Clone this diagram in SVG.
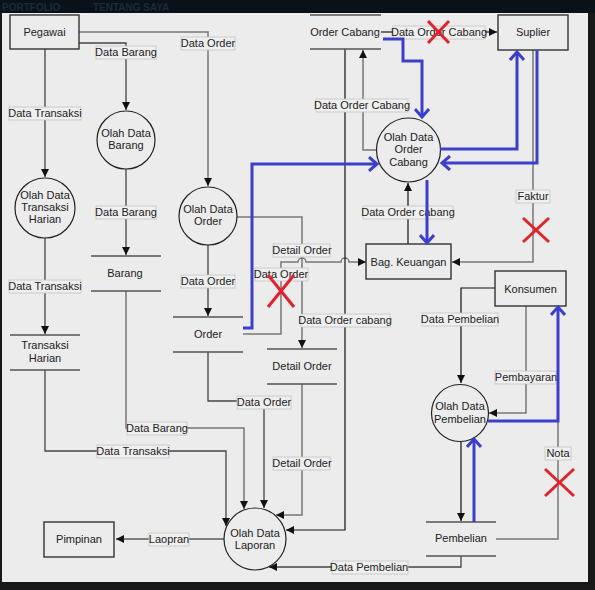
<svg xmlns="http://www.w3.org/2000/svg" width="595" height="590" viewBox="0 0 595 590">
<defs>
<marker id="ar" markerUnits="userSpaceOnUse" markerWidth="9" markerHeight="8" refX="8" refY="4" orient="auto"><path d="M0,0 L8,4 L0,8 z" fill="#111"/></marker>
<marker id="bc" markerUnits="userSpaceOnUse" markerWidth="14" markerHeight="16" refX="10" refY="8" orient="auto"><polyline points="2,1 10,8 2,15" fill="none" stroke="#3c3fcb" stroke-width="3"/></marker>
<style>
text{font-family:"Liberation Sans",Arial,sans-serif;font-size:11px;fill:#222;text-anchor:middle}
.box{fill:#ececec;stroke:#333;stroke-width:1.4}
.pr{fill:#ececec;stroke:#222;stroke-width:1.2}
.ds{stroke:#555;stroke-width:1.5}
.fl{fill:none;stroke:#444;stroke-width:1.3}
.fg{fill:none;stroke:#777;stroke-width:1.5}
.fk{fill:none;stroke:#111;stroke-width:1.2}
.lb rect{fill:#efefef;stroke:#c4c4c4;stroke-width:0.8}
.bl{fill:none;stroke:#3c3fcb;stroke-width:3}
.rx{stroke:#e2222c;stroke-width:3}
.hd{font-weight:bold;font-size:10px;fill:#1d2a3a;text-anchor:start}
</style>
</defs>
<rect x="0" y="0" width="595" height="590" fill="#181818"/>
<rect x="0" y="0" width="595" height="13" fill="#0a1219"/>
<text class="hd" x="2" y="10.5">PORTFOLIO</text>
<text class="hd" x="93" y="10.5">TENTANG SAYA</text>
<rect x="2" y="13" width="586" height="569" fill="#ececec"/>

<g id="connectors">
<path class="fl" d="M45,49 V177" marker-end="url(#ar)"/>
<path class="fl" d="M79,43 H126 V110" marker-end="url(#ar)"/>
<path class="fg" d="M79,32 H208 V186" marker-end="url(#ar)"/>
<path class="fl" d="M126,169 V255" marker-end="url(#ar)"/>
<path class="fl" d="M45,238 V334" marker-end="url(#ar)"/>
<path class="fl" d="M208,245 V316" marker-end="url(#ar)"/>
<path class="fg" d="M237,217 H302 V348" marker-end="url(#ar)"/>
<path class="fg" d="M243,334 H281 V262 H298 a4,4 0 0 1 8,0 H341 a4,4 0 0 1 8,0 H366" marker-end="url(#ar)"/>
<path class="fk" d="M345,49 V530 H286" marker-end="url(#ar)"/>
<path class="fg" d="M377,150 H363 V50" marker-end="url(#ar)"/>
<path class="fk" d="M408,244 V183" marker-end="url(#ar)"/>
<path class="fl" d="M381,32 H497" marker-end="url(#ar)"/>
<path class="fg" d="M533,50 V262 H452" marker-end="url(#ar)"/>
<path class="fk" d="M495,288 H461 V383" marker-end="url(#ar)"/>
<path class="fg" d="M526,306 V413 H489" marker-end="url(#ar)"/>
<path class="fk" d="M461,441 V521" marker-end="url(#ar)"/>
<path class="fg" d="M496,539 H558 V307"/>
<path class="fl" d="M461,556 V567 H269" marker-end="url(#ar)"/>
<path class="fk" d="M224,539 H116" marker-end="url(#ar)"/>
<path class="fl" d="M45,370 V451 H226 V526" marker-end="url(#ar)"/>
<path class="fg" d="M126,291 V428 H244 V509" marker-end="url(#ar)"/>
<path class="fl" d="M208,352 V401 H264 V508" marker-end="url(#ar)"/>
<path class="fg" d="M302,384 V515 H276" marker-end="url(#ar)"/>

<g class="lb">
<rect x="9" y="107" width="72" height="13"/><text x="45" y="117">Data Transaksi</text>
<rect x="96" y="46" width="60" height="13"/><text x="126" y="56">Data Barang</text>
<rect x="181" y="37" width="54" height="13"/><text x="208" y="47">Data Order</text>
<rect x="96" y="206" width="60" height="13"/><text x="126" y="216">Data Barang</text>
<rect x="9" y="280" width="72" height="13"/><text x="45" y="290">Data Transaksi</text>
<rect x="181" y="275" width="54" height="13"/><text x="208" y="285">Data Order</text>
<rect x="273" y="244" width="57" height="13"/><text x="302" y="254">Detail Order</text>
<rect x="255" y="268" width="53" height="13"/><text x="281" y="278">Data Order</text>
<rect x="301" y="314" width="89" height="13"/><text x="345" y="324">Data Order cabang</text>
<rect x="316" y="99" width="92" height="13"/><text x="362" y="109">Data Order Cabang</text>
<rect x="363" y="206" width="90" height="13"/><text x="408" y="216">Data Order cabang</text>
<rect x="393" y="26" width="92" height="13"/><text x="439" y="36">Data Order Cabang</text>
<rect x="516" y="190" width="34" height="13"/><text x="533" y="200">Faktur</text>
<rect x="422" y="313" width="76" height="13"/><text x="460" y="323">Data Pembelian</text>
<rect x="495" y="371" width="61" height="13"/><text x="526" y="381">Pembayaran</text>
<rect x="545" y="447" width="26" height="13"/><text x="558" y="457">Nota</text>
<rect x="332" y="561" width="76" height="13"/><text x="369" y="571">Data Pembelian</text>
<rect x="149" y="533" width="40" height="13"/><text x="169" y="543">Laopran</text>
<rect x="97" y="445" width="72" height="13"/><text x="133" y="455">Data Transaksi</text>
<rect x="127" y="422" width="60" height="13"/><text x="157" y="432">Data Barang</text>
<rect x="237" y="396" width="54" height="13"/><text x="264" y="406">Data Order</text>
<rect x="273" y="457" width="57" height="13"/><text x="302" y="467">Detail Order</text>
</g>
</g>

<g id="pegawai"><rect class="box" x="10" y="15" width="69" height="34"/><text x="44.5" y="36">Pegawai</text></g>
<g id="suplier"><rect class="box" x="498" y="15" width="70" height="35"/><text x="533" y="36">Suplier</text></g>
<g id="bagkeuangan"><rect class="box" x="366" y="244" width="85" height="35"/><text x="408.5" y="266">Bag. Keuangan</text></g>
<g id="konsumen"><rect class="box" x="495" y="271" width="71" height="35"/><text x="530.5" y="293">Konsumen</text></g>
<g id="pimpinan"><rect class="box" x="44" y="522" width="70" height="35"/><text x="79" y="543">Pimpinan</text></g>

<g id="olahtransaksi"><circle class="pr" cx="45" cy="208" r="30"/><text x="45" y="199">Olah Data</text><text x="45" y="211">Transaksi</text><text x="45" y="223">Harian</text></g>
<g id="olahbarang"><circle class="pr" cx="126" cy="140" r="29"/><text x="126" y="137">Olah Data</text><text x="126" y="149">Barang</text></g>
<g id="olahorder"><circle class="pr" cx="208" cy="216" r="29"/><text x="208" y="213">Olah Data</text><text x="208" y="225">Order</text></g>
<g id="olahordercabang"><circle class="pr" cx="408.5" cy="150" r="32"/><text x="408.5" y="141">Olah Data</text><text x="408.5" y="153">Order</text><text x="408.5" y="166">Cabang</text></g>
<g id="olahpembelian"><circle class="pr" cx="460" cy="413" r="28.5"/><text x="460" y="410">Olah Data</text><text x="460" y="423">Pembelian</text></g>
<g id="olahlaporan"><circle class="pr" cx="255" cy="539" r="31"/><text x="255" y="537">Olah Data</text><text x="255" y="549">Laporan</text></g>

<g id="storebarang"><line class="ds" x1="91" y1="256" x2="161" y2="256"/><line class="ds" x1="91" y1="291" x2="161" y2="291"/><text x="125" y="277">Barang</text></g>
<g id="storetransaksi"><line class="ds" x1="10" y1="335" x2="80" y2="335"/><line class="ds" x1="10" y1="370" x2="80" y2="370"/><text x="45" y="349">Transaksi</text><text x="45" y="362">Harian</text></g>
<g id="storeorder"><line class="ds" x1="173" y1="317" x2="243" y2="317"/><line class="ds" x1="173" y1="352" x2="243" y2="352"/><text x="208" y="338">Order</text></g>
<g id="storedetail"><line class="ds" x1="267" y1="349" x2="337" y2="349"/><line class="ds" x1="267" y1="384" x2="337" y2="384"/><text x="302" y="370">Detail Order</text></g>
<g id="storeordercabang"><line class="ds" x1="310" y1="15" x2="381" y2="15" stroke="#888"/><line class="ds" x1="310" y1="49" x2="381" y2="49"/><text x="345" y="36">Order Cabang</text></g>
<g id="storepembelian"><line class="ds" x1="426" y1="522" x2="496" y2="522"/><line class="ds" x1="426" y1="556" x2="496" y2="556"/><text x="461" y="542">Pembelian</text></g>

<g id="annotations">
<path class="bl" d="M243,328 H252 V164 H377" marker-end="url(#bc)"/>
<path class="bl" d="M383,39 H403 V61 H422 V117" marker-end="url(#bc)"/>
<path class="bl" d="M440,149 H517 V52" marker-end="url(#bc)"/>
<path class="bl" d="M537,50 V163 H442" marker-end="url(#bc)"/>
<path class="bl" d="M427,180 V243" marker-end="url(#bc)"/>
<path class="bl" d="M474,522 V439" marker-end="url(#bc)"/>
<path class="bl" d="M488,421 H558 V307" marker-end="url(#bc)"/>
<line class="rx" x1="428" y1="21" x2="449" y2="43"/><line class="rx" x1="449" y1="21" x2="428" y2="43"/>
<line class="rx" x1="268" y1="275" x2="294" y2="307"/><line class="rx" x1="294" y1="275" x2="268" y2="307"/>
<line class="rx" x1="523" y1="218" x2="549" y2="242"/><line class="rx" x1="549" y1="218" x2="523" y2="242"/>
<line class="rx" x1="545" y1="469" x2="574" y2="496"/><line class="rx" x1="574" y1="469" x2="545" y2="496"/>
</g>
</svg>
